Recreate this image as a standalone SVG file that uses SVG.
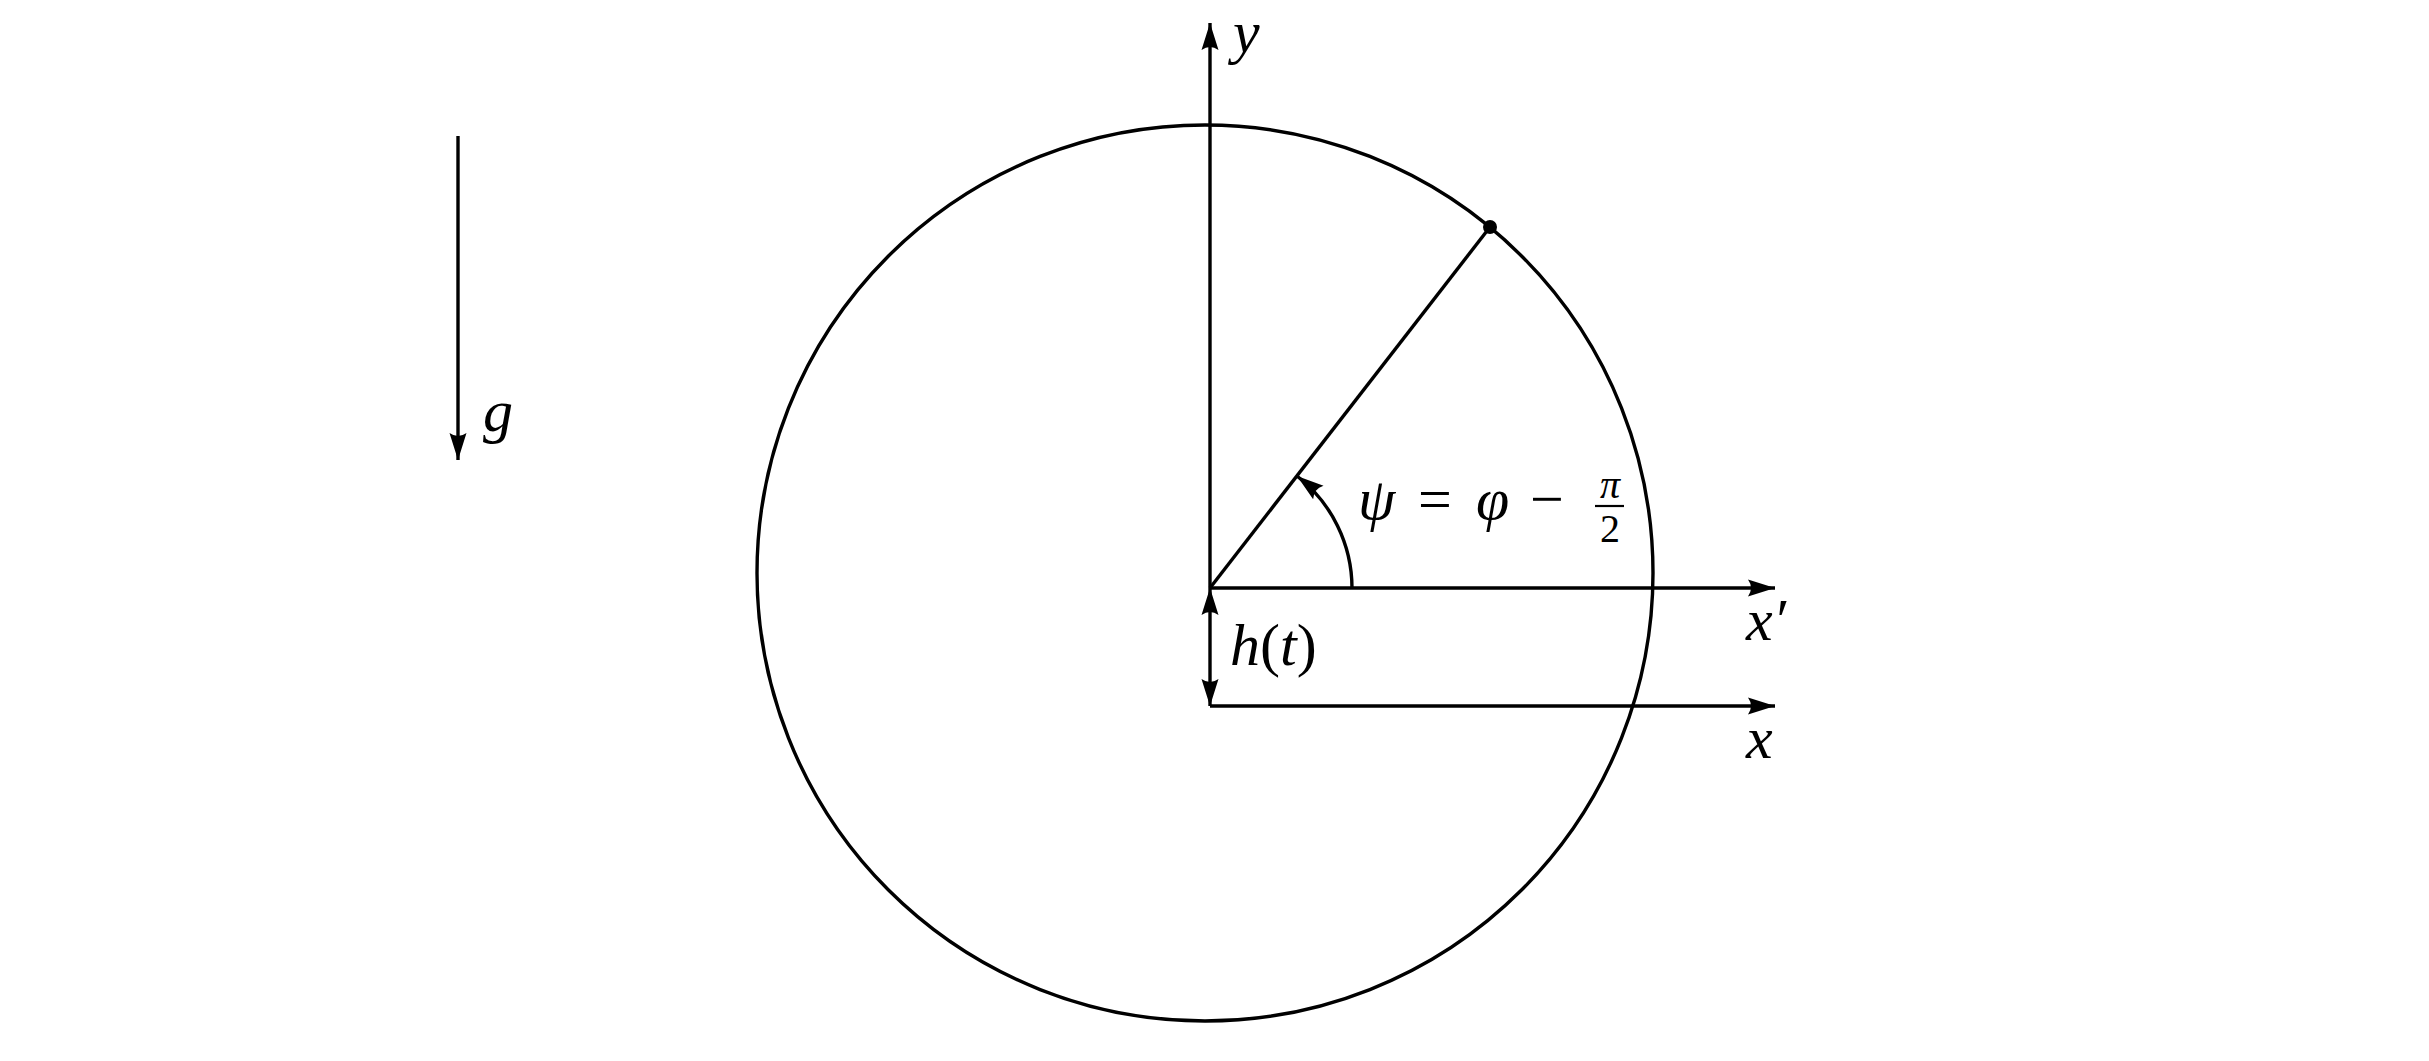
<svg xmlns="http://www.w3.org/2000/svg" width="2429" height="1061" viewBox="0 0 2429 1061">
<style>
.ln{stroke:#000;stroke-width:3.4;fill:none}
.m{font-family:"Liberation Serif","DejaVu Serif",serif;font-style:italic;font-size:60px;fill:#000}
.r{font-family:"Liberation Serif","DejaVu Serif",serif;font-size:60px;fill:#000}
.s{font-family:"Liberation Serif","DejaVu Serif",serif;font-size:40px;fill:#000;text-anchor:middle}
</style>
<defs>
<marker id="ah" markerUnits="userSpaceOnUse" markerWidth="30" markerHeight="20" viewBox="0 -10 30 20" refX="27" refY="0" orient="auto-start-reverse">
<path d="M27,0 L0,-8.5 Q6,0 0,8.5 Z" fill="#000"/>
</marker>
</defs>
<rect width="2429" height="1061" fill="#fff"/>
<g id="circle">
<circle cx="1205" cy="573" r="448" class="ln"/>
</g>
<g id="connectors">
<line id="y-axis" x1="1210" y1="588" x2="1210" y2="23" class="ln" marker-end="url(#ah)"/>
<line id="xprime-axis" x1="1210" y1="588" x2="1775" y2="588" class="ln" marker-end="url(#ah)"/>
<line id="x-axis" x1="1210" y1="706" x2="1775" y2="706" class="ln" marker-end="url(#ah)"/>
<line id="h-arrow" x1="1210" y1="588" x2="1210" y2="706" class="ln" marker-start="url(#ah)" marker-end="url(#ah)"/>
<line id="radius" x1="1210" y1="588" x2="1490" y2="227" class="ln"/>
<path id="angle-arc" d="M1352,588 A142,142 0 0 0 1297,476" class="ln" marker-end="url(#ah)"/>
<line id="g-arrow" x1="458" y1="136" x2="458" y2="460" class="ln" marker-end="url(#ah)"/>
</g>
<g id="point">
<circle cx="1490" cy="227" r="7" fill="#000"/>
</g>
<g id="labels">
<text class="m" x="1233" y="52" font-size="52">y</text>
<text class="m" x="483" y="431">g</text>
<text class="m" x="1746" y="640">x′</text>
<text class="m" x="1746" y="758">x</text>
<text class="m" x="1230" y="665">h<tspan class="r" font-style="normal">(</tspan>t<tspan font-style="normal">)</tspan></text>
<g id="angle-label">
<text class="m" x="1358" y="519">ψ</text>
<text class="r" x="1418" y="519">=</text>
<text class="m" x="1476" y="519">φ</text>
<text class="r" x="1530" y="519">−</text>
<text class="s" font-style="italic" x="1610" y="498">π</text>
<line x1="1595" y1="506" x2="1624" y2="506" stroke="#000" stroke-width="2.2"/>
<text class="s" x="1610" y="542">2</text>
</g>
</g>
</svg>
